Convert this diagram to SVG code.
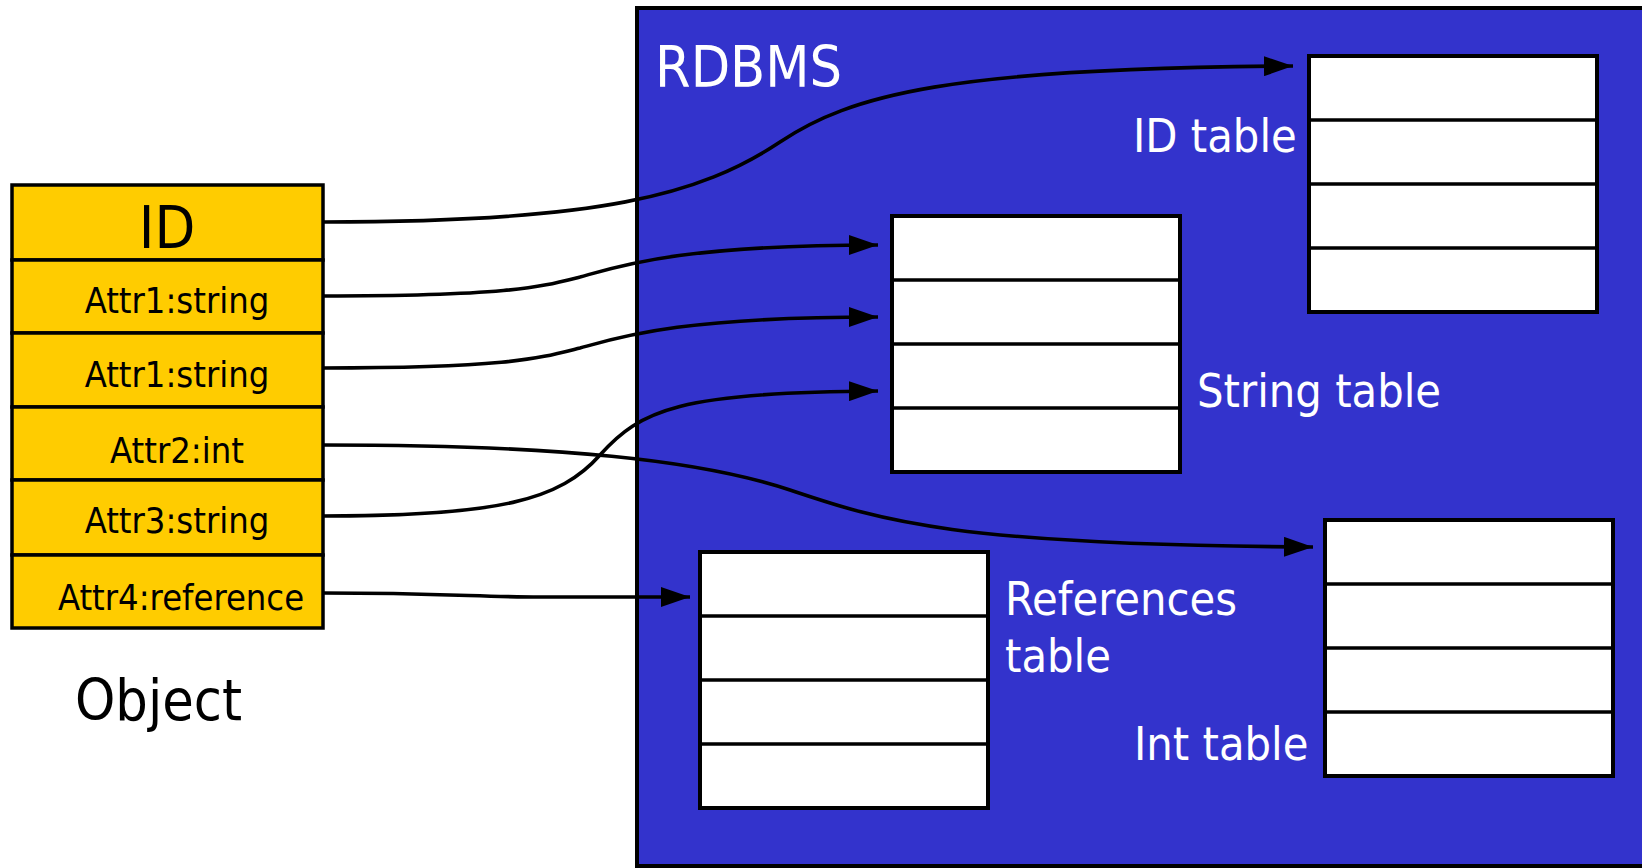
<svg xmlns="http://www.w3.org/2000/svg" width="1642" height="868" viewBox="0 0 1642 868">
  <style>
    text { font-family: "DejaVu Sans Condensed", "DejaVu Sans", sans-serif; font-stretch: condensed; }
    .obj-row { fill: #FFCC00; stroke: #000; stroke-width: 3.5; }
    .attr { font-size: 36px; fill: #000; text-anchor: middle; }
    .tbl-frame { fill: #FFFFFF; stroke: #000; stroke-width: 4; }
    .tbl-line { stroke: #000; stroke-width: 3.5; }
    .lbl { font-size: 46.5px; fill: #FFFFFF; }
    .conn { fill: none; stroke: #000; stroke-width: 3.6; marker-end: url(#arrow); }
  </style>
  <defs>
    <marker id="arrow" viewBox="0 0 29 20" refX="29" refY="10" markerWidth="29" markerHeight="20" markerUnits="userSpaceOnUse" orient="auto">
      <path d="M0,0 L29,10 L0,20 Z" fill="#000"/>
    </marker>
  </defs>

  <rect width="1642" height="868" fill="#FFFFFF"/>

  <!-- database container -->
  <g id="rdbms">
    <rect x="637" y="8" width="1020" height="858" fill="#3333CC" stroke="#000" stroke-width="4"/>
    <text x="655" y="87" style="font-size:57px" fill="#FFFFFF">RDBMS</text>
  </g>

  <!-- object with its attributes -->
  <g id="object">
    <rect class="obj-row" x="12" y="185" width="311" height="75"/>
    <rect class="obj-row" x="12" y="260" width="311" height="73"/>
    <rect class="obj-row" x="12" y="333" width="311" height="74"/>
    <rect class="obj-row" x="12" y="407" width="311" height="73"/>
    <rect class="obj-row" x="12" y="480" width="311" height="75"/>
    <rect class="obj-row" x="12" y="555" width="311" height="73"/>
    <text x="167" y="248" style="font-size:59px" fill="#000" text-anchor="middle">ID</text>
    <text class="attr" x="177" y="313">Attr1:string</text>
    <text class="attr" x="177" y="387">Attr1:string</text>
    <text class="attr" x="177" y="463">Attr2:int</text>
    <text class="attr" x="177" y="533">Attr3:string</text>
    <text class="attr" x="181" y="610">Attr4:reference</text>
    <text x="75" y="720" style="font-size:57px" fill="#000">Object</text>
  </g>

  <!-- tables -->
  <g id="id-table">
    <rect class="tbl-frame" x="1309" y="56" width="288" height="256"/>
    <line class="tbl-line" x1="1309" y1="120" x2="1597" y2="120"/>
    <line class="tbl-line" x1="1309" y1="184" x2="1597" y2="184"/>
    <line class="tbl-line" x1="1309" y1="248" x2="1597" y2="248"/>
    <text class="lbl" x="1133" y="152">ID table</text>
  </g>

  <g id="string-table">
    <rect class="tbl-frame" x="892" y="216" width="288" height="256"/>
    <line class="tbl-line" x1="892" y1="280" x2="1180" y2="280"/>
    <line class="tbl-line" x1="892" y1="344" x2="1180" y2="344"/>
    <line class="tbl-line" x1="892" y1="408" x2="1180" y2="408"/>
    <text class="lbl" x="1197" y="407">String table</text>
  </g>

  <g id="references-table">
    <rect class="tbl-frame" x="700" y="552" width="288" height="256"/>
    <line class="tbl-line" x1="700" y1="616" x2="988" y2="616"/>
    <line class="tbl-line" x1="700" y1="680" x2="988" y2="680"/>
    <line class="tbl-line" x1="700" y1="744" x2="988" y2="744"/>
    <text class="lbl" x="1005" y="615">References</text>
    <text class="lbl" x="1005" y="672">table</text>
  </g>

  <g id="int-table">
    <rect class="tbl-frame" x="1325" y="520" width="288" height="256"/>
    <line class="tbl-line" x1="1325" y1="584" x2="1613" y2="584"/>
    <line class="tbl-line" x1="1325" y1="648" x2="1613" y2="648"/>
    <line class="tbl-line" x1="1325" y1="712" x2="1613" y2="712"/>
    <text class="lbl" x="1134" y="760">Int table</text>
  </g>

  <!-- attribute-to-table mappings -->
  <g id="connectors">
    <path class="conn" d="M323,222 C600,222 700,195 780,142 C850,95 950,68 1293,66"/>
    <path class="conn" d="M323,296 C510,296 540,287 580,277 C620,266 680,245 878,245"/>
    <path class="conn" d="M323,368 C510,368 540,358 580,348 C620,337 680,317 878,317"/>
    <path class="conn" d="M323,445 C560,445 700,460 790,490 C880,520 950,545 1313,547"/>
    <path class="conn" d="M323,516 C500,516 560,500 600,455 C640,410 680,392 878,391"/>
    <path class="conn" d="M323,593 C440,593 480,597 540,597 L690,597"/>
  </g>
</svg>
